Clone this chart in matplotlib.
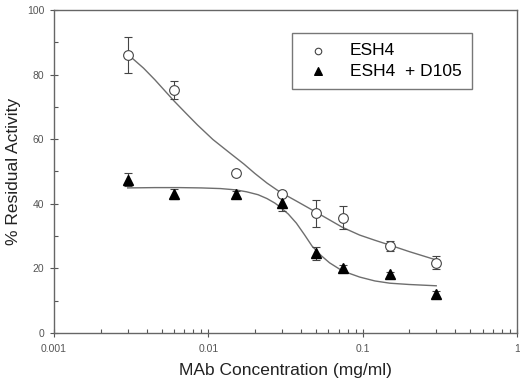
import matplotlib
matplotlib.use("Agg")
import matplotlib.pyplot as plt
from matplotlib.ticker import LogLocator, FixedLocator, NullFormatter, FuncFormatter

plt.rcParams['font.family'] = ['Liberation Sans', 'DejaVu Sans']

# measured points (mg/ml vs % residual activity)
conc = [0.003, 0.006, 0.015, 0.03, 0.05, 0.075, 0.15, 0.3]
esh4 = [86.0, 75.2, 49.5, 43.0, 37.0, 35.7, 27.0, 21.7]
esh4_err = [5.5, 2.8, 1.0, 1.0, 4.2, 3.5, 1.5, 2.0]
d105 = [47.5, 43.0, 43.0, 40.2, 24.7, 20.1, 18.2, 12.0]
d105_err = [2.0, 1.5, 0.8, 2.5, 2.0, 0.8, 0.8, 1.0]

# fitted curves
fit_x_esh4 = [0.003, 0.0038, 0.0045, 0.006, 0.0072, 0.0085, 0.0107, 0.0138, 0.017, 0.02,
              0.024, 0.029, 0.037, 0.047, 0.06, 0.074, 0.0957, 0.12, 0.15, 0.2, 0.3]
fit_y_esh4 = [86.3, 82.0, 78.4, 71.8, 67.9, 64.4, 59.9, 55.7, 52.3, 49.4,
              46.4, 43.7, 40.9, 38.1, 35.2, 32.7, 30.3, 28.7, 27.2, 25.2, 22.6]
fit_x_d105 = [0.003, 0.0045, 0.0065, 0.009, 0.012, 0.015, 0.0177, 0.021, 0.024, 0.027,
              0.029, 0.033, 0.0372, 0.042, 0.047, 0.054, 0.0611, 0.074, 0.0957, 0.12, 0.15, 0.2, 0.3]
fit_y_d105 = [44.9, 45.0, 45.0, 44.9, 44.7, 44.3, 43.7, 42.8, 41.6, 40.2,
              39.1, 36.8, 34.0, 30.4, 26.9, 23.9, 21.7, 19.2, 17.3, 16.1, 15.4, 15.0, 14.6]

fig = plt.figure(figsize=(5.2, 3.84), dpi=100)
ax = fig.add_axes([0.104, 0.133, 0.890, 0.841])

line_col = '#6e6e6e'
ax.plot(fit_x_esh4, fit_y_esh4, color=line_col, lw=1.0)
ax.plot(fit_x_d105, fit_y_d105, color=line_col, lw=1.0)

ax.errorbar(conc, esh4, yerr=esh4_err, fmt='o', mfc='white', mec='#444444', mew=0.8,
            ms=7, ecolor='#444444', elinewidth=0.8, capsize=3, capthick=0.8, zorder=3)
ax.errorbar(conc, d105, yerr=d105_err, fmt='^', mfc='black', mec='black',
            ms=7, ecolor='#444444', elinewidth=0.8, capsize=3, capthick=0.8, zorder=3)

ax.set_xscale('log')
ax.set_xlim(0.001, 1)
ax.set_ylim(0, 100)

ax.xaxis.set_major_locator(FixedLocator([0.001, 0.01, 0.1, 1]))
ax.xaxis.set_major_formatter(FuncFormatter(lambda v, p: '%g' % v))
ax.xaxis.set_minor_locator(LogLocator(base=10, subs=range(2, 10), numticks=20))
ax.xaxis.set_minor_formatter(NullFormatter())
ax.set_yticks(range(0, 101, 20))
ax.set_yticks(range(10, 100, 20), minor=True)

for s in ax.spines.values():
    s.set_color('#666666')
    s.set_linewidth(1.0)

ax.tick_params(which='major', direction='inout', length=6, width=0.8, color='#555555',
               labelsize=7.5, labelcolor='#555555')
ax.tick_params(axis='x', which='major', pad=5)
ax.tick_params(axis='y', which='major', pad=4)
ax.tick_params(which='minor', direction='in', length=3, width=0.8, color='#555555')

fig.text(285.5 / 520, 1 - 370 / 384, 'MAb Concentration (mg/ml)', fontsize=12.5,
         color='#222222', ha='center', va='center')
fig.text(14 / 520, 1 - 171.5 / 384, '% Residual Activity', fontsize=12.5,
         color='#222222', ha='center', va='center', rotation=90)

h1 = ax.scatter([], [], marker='o', s=22, facecolor='white', edgecolor='#444444', linewidth=0.8)
h2 = ax.scatter([], [], marker='^', s=30, facecolor='black', edgecolor='black')
leg = ax.legend([h1, h2], ['ESH4', 'ESH4  + D105'], loc='upper left',
                bbox_to_anchor=(0.514, 0.929), borderaxespad=0, fontsize=12.5,
                frameon=True, fancybox=False, handletextpad=0.95, labelspacing=0.3,
                borderpad=0.6, handlelength=1.8)
leg.get_frame().set_edgecolor('#555555')
leg.get_frame().set_linewidth(1.0)

fig.savefig('out.png', dpi=100)
